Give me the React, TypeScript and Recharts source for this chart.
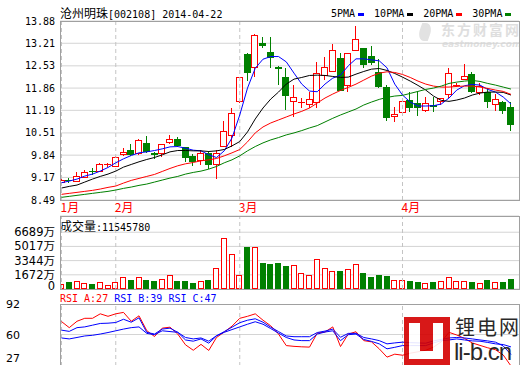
import React from "react";
import {
  Bar,
  CartesianGrid,
  ComposedChart,
  Legend,
  Line,
  ReferenceLine,
  XAxis,
  YAxis,
} from "recharts";

// 沧州明珠 002108, daily, 2014-01-22 .. 2014-04-22
const opens = [
  9.0, 9.1, 9.04, 9.16, 9.35, 9.34, 9.54, 9.49, 9.83, 9.99,
  9.87, 10.2, 9.9, 9.87, 10.2, 10.32, 10.08, 9.82, 9.67, 9.92,
  9.55, 10.09, 10.42, 11.43, 12.88, 12.46, 13.21, 12.94, 12.5, 12.19,
  11.45, 11.42, 11.34, 11.4, 12.23, 12.34, 12.78, 11.93, 12.99, 13.06,
  12.84, 12.35, 11.9, 10.98, 11.1, 11.5, 11.4, 11.18, 11.35, 11.45,
  11.65, 11.92, 12.1, 12.28, 11.7, 11.73, 11.35, 11.43, 11.28,
];
const highs = [
  9.13, 9.16, 9.34, 9.39, 9.45, 9.61, 9.61, 9.8, 10.07, 10.18,
  10.32, 10.42, 9.95, 10.19, 10.45, 10.4, 10.1, 9.88, 9.99, 9.97,
  9.99, 10.88, 11.25, 12.2, 12.91, 13.48, 13.41, 13.41, 12.52, 12.46,
  11.95, 11.55, 11.75, 12.64, 12.81, 13.19, 12.91, 12.93, 13.73, 13.08,
  13.14, 12.73, 11.95, 11.28, 11.5, 11.73, 11.75, 11.6, 11.6, 11.57,
  12.47, 12.0, 12.59, 12.35, 12.0, 11.86, 11.68, 11.46, 11.45,
];
const lows = [
  8.98, 9.01, 9.03, 9.15, 9.24, 9.33, 9.47, 9.47, 9.82, 9.8,
  9.85, 9.9, 9.72, 9.78, 10.19, 10.1, 9.64, 9.52, 9.55, 9.43,
  9.12, 10.08, 10.1, 11.42, 12.07, 12.2, 13.06, 12.46, 11.95, 11.2,
  10.99, 11.25, 11.25, 11.27, 12.1, 12.33, 11.76, 11.75, 12.98, 12.46,
  12.55, 11.87, 10.88, 10.85, 11.08, 11.15, 11.02, 11.13, 11.15, 11.35,
  11.55, 11.88, 12.09, 11.72, 11.65, 11.26, 11.17, 11.08, 10.57,
];
const closes = [
  9.09, 9.08, 9.21, 9.33, 9.33, 9.58, 9.56, 9.78, 9.93, 9.85,
  10.3, 9.93, 9.83, 10.17, 10.32, 10.13, 9.75, 9.64, 9.9, 9.55,
  9.9, 10.58, 11.1, 12.19, 12.31, 13.46, 13.14, 12.76, 12.43, 11.63,
  11.6, 11.44, 11.53, 12.32, 12.49, 13.01, 11.78, 12.91, 13.34, 12.56,
  12.61, 11.9, 10.95, 11.07, 11.47, 11.27, 11.25, 11.42, 11.3, 11.55,
  12.31, 11.95, 12.23, 11.73, 11.92, 11.45, 11.53, 11.17, 10.75,
];
// 成交量, 万股
const volumes = [
  580, 850, 930, 700, 580, 780, 460, 780, 1360, 1080,
  1470, 1080, 930, 1160, 1620, 930, 930, 700, 930, 1080,
  2440, 6000, 4180, 1700, 4900, 4950, 3100, 2900, 3020, 2700,
  2780, 1860, 1620, 3560, 2440, 2090, 2090, 2320, 2900, 1860,
  1430, 1620, 1510, 1040, 1040, 960, 810, 660, 810, 930,
  1470, 930, 930, 810, 700, 1040, 810, 810, 1155,
];
const ma5 = [
  9.01, 9.06, 9.12, 9.21, 9.27, 9.36, 9.47, 9.61, 9.73, 9.83,
  9.91, 9.94, 9.98, 10.03, 10.09, 10.1, 10.05, 9.99, 9.97, 9.85,
  9.77, 9.97, 10.36, 11.05, 11.86, 12.46, 12.73, 12.81, 12.81, 12.65,
  12.31, 11.98, 11.77, 11.75, 11.98, 12.16, 12.25, 12.53, 12.74, 12.74,
  12.71, 12.68, 12.47, 11.98, 11.65, 11.44, 11.32, 11.32, 11.33, 11.38,
  11.56, 11.8, 11.93, 11.97, 11.95, 11.82, 11.74, 11.59, 11.38,
];
const ma10 = [
  8.85, 8.9, 8.94, 9.03, 9.12, 9.2, 9.27, 9.36, 9.48, 9.56,
  9.64, 9.71, 9.77, 9.85, 9.94, 9.98, 9.98, 9.97, 9.97, 9.95,
  9.97, 10.01, 10.12, 10.25, 10.54, 10.93, 11.26, 11.53, 11.74, 11.98,
  12.13, 12.18, 12.24, 12.25, 12.24, 12.21, 12.18, 12.19, 12.28, 12.36,
  12.43, 12.45, 12.39, 12.3, 12.19, 12.07, 11.94, 11.8, 11.62, 11.49,
  11.46, 11.5, 11.56, 11.65, 11.71, 11.74, 11.74, 11.73, 11.65,
];
const ma20 = [
  8.66, 8.69, 8.72, 8.75, 8.78, 8.82, 8.87, 8.91, 9.0, 9.08,
  9.14, 9.2, 9.26, 9.35, 9.44, 9.52, 9.58, 9.62, 9.67, 9.7,
  9.74, 9.82, 9.91, 10.01, 10.24, 10.51, 10.69, 10.81, 10.9, 10.99,
  11.08, 11.16, 11.26, 11.41, 11.56, 11.68, 11.79, 11.88, 11.98, 12.1,
  12.22, 12.31, 12.35, 12.33, 12.27, 12.18, 12.07, 11.98, 11.92, 11.89,
  11.89, 11.91, 11.92, 11.92, 11.89, 11.85, 11.8, 11.76, 11.67,
];
const ma30 = [
  8.57, 8.6, 8.63, 8.66, 8.69, 8.72, 8.75, 8.79, 8.84, 8.88,
  8.93, 8.97, 9.03, 9.09, 9.15, 9.2, 9.27, 9.32, 9.36, 9.42,
  9.5, 9.61, 9.7, 9.82, 9.97, 10.1, 10.21, 10.3, 10.37, 10.45,
  10.51, 10.58, 10.66, 10.73, 10.84, 10.95, 11.05, 11.14, 11.23, 11.35,
  11.44, 11.52, 11.58, 11.62, 11.64, 11.7, 11.76, 11.82, 11.86, 11.92,
  12.0, 12.04, 12.07, 12.09, 12.06, 12.0, 11.95, 11.89, 11.83,
];
const rsiA = [
  73.6, 67.2, 73.9, 77.0, 77.0, 81.7, 79.1, 81.7, 83.2, 73.9,
  79.6, 64.1, 57.9, 66.7, 67.7, 60.5, 49.2, 43.5, 49.7, 43.3,
  56.9, 62.6, 68.8, 77.0, 79.1, 81.7, 75.0, 69.1, 60.5, 48.4,
  47.6, 47.1, 46.8, 61.5, 62.6, 68.0, 47.4, 60.5, 62.9, 53.6,
  52.3, 45.0, 36.3, 39.4, 38.3, 40.4, 41.9, 43.5, 46.8, 52.3,
  62.3, 59.5, 55.9, 51.2, 48.6, 46.1, 44.0, 38.5, 27,
];
const rsiB = [
  64.6, 63.3, 67.2, 68.0, 69.8, 71.6, 71.9, 72.6, 76.0, 72.9,
  77.5, 62.3, 60.5, 65.7, 66.7, 62.3, 54.3, 53.0, 55.4, 50.9,
  58.5, 63.1, 67.7, 72.4, 75.0, 76.5, 72.9, 67.7, 63.1, 58.5,
  57.7, 57.7, 57.7, 62.1, 63.6, 65.7, 57.1, 61.2, 61.2, 56.9,
  55.4, 53.6, 50.2, 51.2, 52.0, 51.5, 51.2, 50.9, 53.3, 54.8,
  56.4, 56.9, 56.4, 55.4, 54.3, 53.3, 52.0, 48.0, 39,
];
const rsiC = [
  56.4, 55.4, 56.9, 58.5, 59.2, 60.5, 62.1, 63.9, 65.7, 67.2,
  68.0, 61.2, 59.8, 63.9, 63.1, 62.3, 56.9, 55.4, 56.4, 53.0,
  58.8, 62.3, 65.2, 68.0, 70.8, 73.4, 70.8, 66.2, 61.5, 56.9,
  54.3, 53.6, 53.6, 60.5, 62.6, 63.9, 53.6, 59.8, 60.5, 54.8,
  52.8, 50.2, 45.0, 46.6, 48.4, 48.4, 48.4, 48.4, 51.2, 53.6,
  54.3, 55.4, 54.3, 53.3, 53.0, 51.7, 50.2, 49.5, 47,
];

const monthStarts = [0, 7, 23, 44];
const monthLabels = ["1月", "2月", "3月", "4月"];
const priceTicks = [8.49, 9.17, 9.84, 10.51, 11.19, 11.86, 12.53, 13.21, 13.88];
const volTicks = [0, 1672, 3344, 5017, 6689];
const rsiTicks = [27, 60, 92];
const maNames = ["5PMA", "10PMA", "20PMA", "30PMA"];

const RED = "#ff0000";
const GREEN = "#008000";
const BLUE = "#0000ff";
const GRID = "#d4d4d4";
const FRAME = "#a0a0a0";
const MONO = "'DejaVu Sans Mono', 'Noto Sans CJK SC', monospace";
const CJK = "'Noto Sans CJK SC', sans-serif";

// candle pitch 7.75px, first candle at x=61.5, plot spans x 60..519
const STEP = 7.75;
const X_MIN = -1.5 / STEP;
const X_MAX = X_MIN + 459 / STEP;

const rows = closes.map((c, i) => ({
  i,
  open: opens[i],
  high: highs[i],
  low: lows[i],
  close: c,
  range: [lows[i], highs[i]],
  vol: volumes[i],
  ma5: ma5[i],
  ma10: ma10[i],
  ma20: ma20[i],
  ma30: ma30[i],
  rsiA: rsiA[i],
  rsiB: rsiB[i],
  rsiC: rsiC[i],
}));

const Candle = (props: any) => {
  const { x, y, width, height, payload } = props;
  if (!payload || x == null) return null;
  const { open, close, high, low } = payload;
  const top0 = Math.min(y, y + height);
  const k = Math.abs(height) / (high - low);
  const py = (v: number) => Math.round(top0 + (high - v) * k);
  const c = Math.floor(x + width / 2);
  const wx = c + 0.5;
  const up = close >= open;
  const bTop = py(Math.max(open, close));
  const bBot = py(Math.min(open, close));
  if (up) {
    return (
      <g>
        <line x1={wx} x2={wx} y1={py(high)} y2={bTop} stroke={RED} />
        <line x1={wx} x2={wx} y1={bBot} y2={py(low)} stroke={RED} />
        {bBot - bTop < 2 ? (
          <line x1={c - 3} x2={c + 4} y1={bTop + 0.5} y2={bTop + 0.5} stroke={RED} />
        ) : (
          <rect x={c - 2.5} y={bTop + 0.5} width={6} height={bBot - bTop - 1} fill="#fff" stroke={RED} />
        )}
      </g>
    );
  }
  return (
    <g>
      <line x1={wx} x2={wx} y1={py(high)} y2={py(low)} stroke={GREEN} />
      <rect x={c - 3} y={bTop} width={7} height={Math.max(bBot - bTop, 1)} fill={GREEN} />
    </g>
  );
};

const VolBar = (props: any) => {
  const { x, y, width, height, payload } = props;
  if (!payload || x == null) return null;
  const c = Math.floor(x + width / 2);
  const top = Math.round(Math.min(y, y + height));
  const bot = Math.round(Math.max(y, y + height));
  if (payload.close >= payload.open) {
    return <rect x={c - 2.5} y={top + 0.5} width={5} height={Math.max(bot - top - 1, 1)} fill="#fff" stroke={RED} />;
  }
  return <rect x={c - 3} y={top} width={6} height={bot - top} fill={GREEN} />;
};

const PriceTick = ({ x, y, payload }: any) => (
  <text x={x} y={y} dy={3.5} textAnchor="end" fontSize={10} fontFamily={MONO} fill="#000">
    {Number(payload.value).toFixed(2)}
  </text>
);

const MonthTick = ({ x, y, payload }: any) => (
  <text x={x - 1} y={y + 12} textAnchor="start" fontSize={12} fontFamily={CJK} fill={RED}>
    {monthLabels[monthStarts.indexOf(payload.value)]}
  </text>
);

const VolTick = ({ x, y, payload }: any) => (
  <text x={x} y={y} dy={payload.value === 0 ? 1 : 4} textAnchor="end" fontSize={11.5} fill="#000">
    <tspan fontFamily="'DejaVu Sans', sans-serif">{payload.value}</tspan>
    {payload.value > 0 && <tspan fontFamily={CJK}>万</tspan>}
  </text>
);

// the lowest label sits just above the panel's lower edge
const RsiTick = ({ y, payload }: any) => (
  <text
    x={6}
    y={y}
    dy={payload.value === rsiTicks[0] ? -4 : 4}
    textAnchor="start"
    fontSize={11}
    fontFamily="'DejaVu Sans', sans-serif"
    fill="#000"
  >
    {payload.value}
  </text>
);

const MaLegend = ({ payload }: any) => {
  const items = (payload ?? [])
    .filter((p: any) => maNames.includes(p.value))
    .sort((a: any, b: any) => maNames.indexOf(a.value) - maNames.indexOf(b.value));
  return (
    <div style={{ display: "flex", fontFamily: MONO, fontSize: 10, lineHeight: "12px", color: "#000" }}>
      {items.map((p: any) => (
        <span key={p.value} style={{ display: "flex", alignItems: "center", marginRight: 10 }}>
          {p.value}
          <span style={{ display: "inline-block", width: 6, height: 3, background: p.color, marginLeft: 3 }} />
        </span>
      ))}
    </div>
  );
};

const frame = (top: number, height: number): React.CSSProperties => ({
  position: "absolute",
  left: 60,
  top,
  width: 460,
  height,
  border: `1px solid ${FRAME}`,
  boxSizing: "border-box",
  pointerEvents: "none",
});

const abs = (left: number, top: number, extra: React.CSSProperties = {}): React.CSSProperties => ({
  position: "absolute",
  left,
  top,
  whiteSpace: "nowrap",
  ...extra,
});

const monthLines = monthStarts.map((m) => (
  <ReferenceLine key={`m-${m}`} x={m} stroke="#c4c4c4" strokeDasharray="4 3" />
));

export default function App() {
  return (
    <div
      style={{
        position: "absolute",
        left: 0,
        top: 0,
        width: 520,
        height: 365,
        background: "#fff",
        overflow: "hidden",
        fontFamily: CJK,
      }}
    >
      {/* eastmoney watermark */}
      <div style={abs(419, 23, { width: 12, height: 18, borderRadius: "0 70% 0 70%", background: "#e2e2e2", transform: "skewX(-20deg)" })} />
      <div style={abs(441, 22, { fontSize: 14, lineHeight: "15px", fontWeight: 700, color: "#dedede", letterSpacing: 2 })}>东方财富网</div>
      <div style={abs(442, 40, { fontSize: 9, lineHeight: "9px", fontWeight: 700, fontStyle: "italic", color: "#e0e0e0", fontFamily: "'DejaVu Sans', sans-serif" })}>
        eastmoney.com
      </div>

      <div style={abs(60, 6, { fontSize: 12, lineHeight: "14px", color: "#000" })}>
        沧州明珠<span style={{ fontFamily: MONO, fontSize: 10 }}>[002108] 2014-04-22</span>
      </div>

      {/* price panel */}
      <div style={abs(0, 0)}>
        <ComposedChart width={520} height={215} data={rows} margin={{ top: 21, right: 1, bottom: 0, left: 0 }}>
          <CartesianGrid vertical={false} stroke={GRID} />
          {monthLines}
          <XAxis
            type="number"
            dataKey="i"
            domain={[X_MIN, X_MAX]}
            allowDataOverflow
            ticks={monthStarts}
            interval={0}
            height={15}
            tick={<MonthTick />}
            tickLine={false}
            axisLine={false}
            tickSize={0}
            tickMargin={0}
          />
          <YAxis
            domain={[8.49, 13.88]}
            allowDataOverflow
            ticks={priceTicks}
            interval={0}
            width={60}
            tick={<PriceTick />}
            tickLine={false}
            axisLine={false}
            tickSize={0}
            tickMargin={5}
          />
          <Legend
            verticalAlign="middle"
            align="center"
            layout="horizontal"
            wrapperStyle={{ top: 8, left: 331, width: 189 }}
            content={<MaLegend />}
          />
          <Bar dataKey="range" barSize={7} shape={<Candle />} legendType="none" isAnimationActive={false} />
          <Line dataKey="ma5" name="5PMA" stroke={BLUE} strokeWidth={1} dot={false} activeDot={false} isAnimationActive={false} />
          <Line dataKey="ma10" name="10PMA" stroke="#000" strokeWidth={1} dot={false} activeDot={false} isAnimationActive={false} />
          <Line dataKey="ma20" name="20PMA" stroke={RED} strokeWidth={1} dot={false} activeDot={false} isAnimationActive={false} />
          <Line dataKey="ma30" name="30PMA" stroke={GREEN} strokeWidth={1} dot={false} activeDot={false} isAnimationActive={false} />
        </ComposedChart>
      </div>
      <div style={frame(21, 180)} />

      {/* volume panel */}
      <div style={abs(60, 219, { fontSize: 12, lineHeight: "14px", color: "#000" })}>
        成交量<span style={{ fontFamily: MONO, fontSize: 10 }}>:11545780</span>
      </div>
      <div style={abs(0, 210)}>
        <ComposedChart width={520} height={90} data={rows} margin={{ top: 6, right: 1, bottom: 11, left: 0 }}>
          <CartesianGrid vertical={false} stroke={GRID} />
          {monthLines}
          <XAxis type="number" dataKey="i" domain={[X_MIN, X_MAX]} allowDataOverflow hide />
          <YAxis
            domain={[0, 8600]}
            allowDataOverflow
            ticks={volTicks}
            interval={0}
            width={60}
            tick={<VolTick />}
            tickLine={false}
            axisLine={false}
            tickSize={0}
            tickMargin={5}
          />
          <Bar dataKey="vol" barSize={6} shape={<VolBar />} isAnimationActive={false} />
        </ComposedChart>
      </div>
      <div style={frame(216, 74)} />

      {/* RSI panel */}
      <div style={abs(60, 293, { fontFamily: MONO, fontSize: 10, lineHeight: "12px" })}>
        <span style={{ color: RED }}>RSI_A:27</span> <span style={{ color: BLUE }}>RSI_B:39</span>{" "}
        <span style={{ color: BLUE }}>RSI_C:47</span>
      </div>
      <div style={abs(0, 290)}>
        <ComposedChart width={520} height={80} data={rows} margin={{ top: 14, right: 1, bottom: 4, left: 0 }}>
          <CartesianGrid vertical={false} stroke={GRID} horizontalValues={[60]} />
          {monthLines}
          <XAxis type="number" dataKey="i" domain={[X_MIN, X_MAX]} allowDataOverflow hide />
          <YAxis
            domain={[27, 92]}
            allowDataOverflow
            ticks={rsiTicks}
            interval={0}
            width={60}
            tick={<RsiTick />}
            tickLine={false}
            axisLine={false}
          />
          <Line dataKey="rsiA" stroke={RED} strokeWidth={1} dot={false} activeDot={false} isAnimationActive={false} />
          <Line dataKey="rsiB" stroke={BLUE} strokeWidth={1} dot={false} activeDot={false} isAnimationActive={false} />
          <Line dataKey="rsiC" stroke={BLUE} strokeWidth={1} dot={false} activeDot={false} isAnimationActive={false} />
        </ComposedChart>
      </div>
      <div style={frame(304, 70)} />

      {/* li-b.cn logo */}
      <div style={{ position: "absolute", left: 404, top: 317, width: 46, height: 48, opacity: 0.9 }}>
        <div style={{ position: "absolute", inset: 0, background: "#d40000" }} />
        <div style={{ position: "absolute", left: 5, top: 6, width: 34, height: 36, background: "#fff" }} />
        <div style={{ position: "absolute", left: 16, top: 6, width: 13, height: 28, background: "#d40000" }} />
      </div>
      <div style={abs(455, 314, { fontSize: 20, lineHeight: "26px", letterSpacing: 2, color: "#111", opacity: 0.9 })}>锂电网</div>
      <div style={abs(454, 339, { fontSize: 24, lineHeight: "26px", letterSpacing: -1, color: "#111", fontFamily: "'Liberation Sans', Arial, sans-serif", opacity: 0.9 })}>
        li-b.cn
      </div>
    </div>
  );
}
